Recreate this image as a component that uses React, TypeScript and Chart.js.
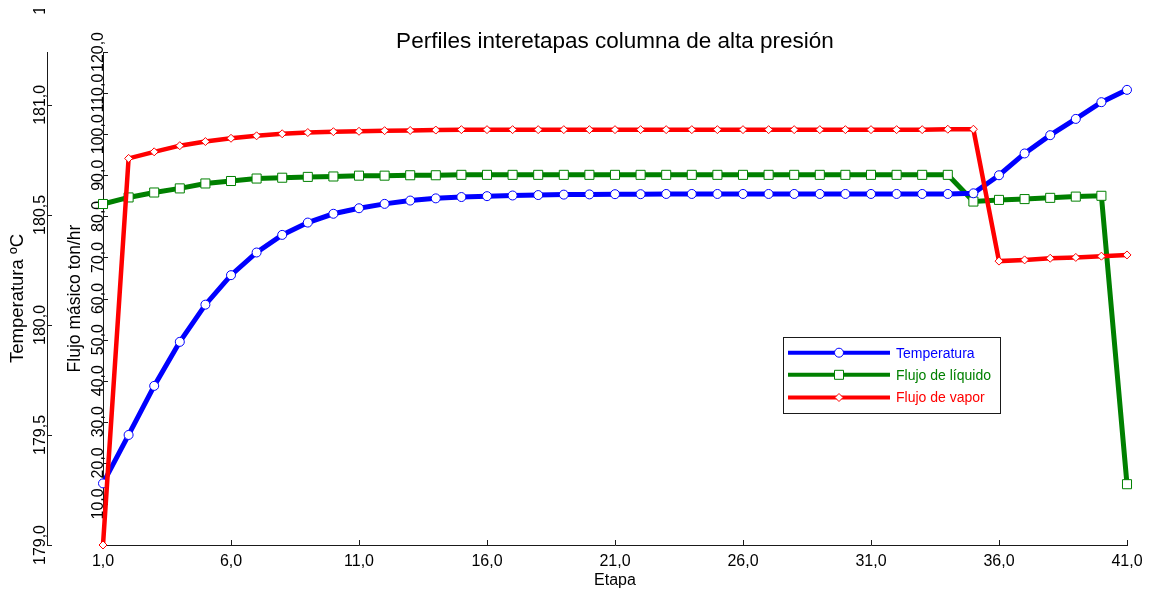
import React, { useEffect, useRef } from 'react';
import { Chart, registerables } from 'chart.js';

Chart.register(...registerables);

// ---------- data ----------
const stages = [
  1, 2, 3, 4, 5, 6, 7, 8, 9, 10, 11, 12, 13, 14, 15, 16, 17, 18, 19, 20, 21,
  22, 23, 24, 25, 26, 27, 28, 29, 30, 31, 32, 33, 34, 35, 36, 37, 38, 39, 40, 41,
];

const temperatura = [
  179.28, 179.5, 179.723, 179.923, 180.092, 180.226, 180.329, 180.409, 180.465, 180.505,
  180.53, 180.55, 180.565, 180.575, 180.581, 180.585, 180.588, 180.59, 180.592, 180.593,
  180.594, 180.594, 180.595, 180.595, 180.595, 180.595, 180.595, 180.595, 180.595, 180.595,
  180.595, 180.595, 180.595, 180.595, 180.598, 180.68, 180.779, 180.862, 180.936, 181.012,
  181.068,
];

const flujoLiquido = [
  83.0, 84.6, 85.8, 86.8, 88.0, 88.6, 89.2, 89.4, 89.6, 89.7,
  89.9, 89.9, 90.0, 90.0, 90.1, 90.1, 90.1, 90.1, 90.1, 90.1,
  90.1, 90.1, 90.1, 90.1, 90.1, 90.1, 90.1, 90.1, 90.1, 90.1,
  90.1, 90.1, 90.1, 90.1, 83.6, 84.0, 84.2, 84.5, 84.8, 85.0,
  14.8,
];

const flujoVapor = [
  0.0, 94.1, 95.7, 97.2, 98.2, 99.0, 99.6, 100.1, 100.4, 100.6,
  100.7, 100.85, 100.9, 101.0, 101.1, 101.1, 101.1, 101.1, 101.1, 101.1,
  101.1, 101.1, 101.1, 101.1, 101.1, 101.1, 101.1, 101.1, 101.1, 101.1,
  101.1, 101.1, 101.1, 101.2, 101.2, 69.1, 69.4, 69.8, 70.0, 70.3,
  70.6,
];

const xTickValues = [1, 6, 11, 16, 21, 26, 31, 36, 41];
const flowTickValues = [0, 10, 20, 30, 40, 50, 60, 70, 80, 90, 100, 110, 120];
const tempTickValues = [179.0, 179.5, 180.0, 180.5, 181.0, 181.5];

const flowMin = 0;
const flowMax = 120;
const tempMin = 179.0;
const tempMax = 181.24;

const seriesLabels = ['Temperatura', 'Flujo de líquido', 'Flujo de vapor'];
const chartTitle = 'Perfiles interetapas columna de alta presión';
const xTitle = 'Etapa';
const tempTitle = 'Temperatura ºC';
const flowTitle = 'Flujo másico ton/hr';

// ---------- style ----------
const FONT = '"Liberation Sans", Arial, Helvetica, sans-serif';
const AXIS = '#1a1a1a';
const BLUE = '#0000ff';
const GREEN = '#008000';
const RED = '#ff0000';

const fmt = (v: number) => v.toFixed(1).replace('.', ',');

type Marker = 'circle' | 'rect' | 'rectRot';

function drawMarker(ctx: CanvasRenderingContext2D, kind: Marker, x: number, y: number, color: string) {
  ctx.save();
  ctx.fillStyle = '#ffffff';
  ctx.strokeStyle = color;
  ctx.lineWidth = 1;
  ctx.beginPath();
  if (kind === 'circle') {
    ctx.arc(x, y, 4.5, 0, Math.PI * 2);
  } else if (kind === 'rect') {
    ctx.rect(x - 4.5, y - 4.5, 9, 9);
  } else {
    ctx.moveTo(x - 4, y);
    ctx.lineTo(x, y - 4);
    ctx.lineTo(x + 4, y);
    ctx.lineTo(x, y + 4);
    ctx.closePath();
  }
  ctx.fill();
  ctx.stroke();
  ctx.restore();
}

const axesPlugin = {
  id: 'matlabAxes',
  beforeDatasetsDraw(chart: any) {
    const ctx: CanvasRenderingContext2D = chart.ctx;
    const ca = chart.chartArea;
    const sx = chart.scales.x;
    const sF = chart.scales.yF;
    const sT = chart.scales.yT;
    ctx.save();
    ctx.strokeStyle = AXIS;
    ctx.lineWidth = 1;
    ctx.beginPath();
    xTickValues.forEach((v) => {
      const px = Math.round(sx.getPixelForValue(v)) + 0.5;
      ctx.moveTo(px, ca.bottom);
      ctx.lineTo(px, ca.bottom - 5);
    });
    flowTickValues.forEach((v) => {
      const py = Math.round(sF.getPixelForValue(v)) + 0.5;
      ctx.moveTo(sF.right, py);
      ctx.lineTo(sF.right + 5, py);
    });
    tempTickValues
      .filter((v) => v <= sT.max)
      .forEach((v) => {
        const py = Math.round(sT.getPixelForValue(v)) + 0.5;
        ctx.moveTo(sT.right, py);
        ctx.lineTo(sT.right + 5, py);
      });
    ctx.stroke();

    ctx.fillStyle = '#000000';
    ctx.font = `16px ${FONT}`;
    ctx.textAlign = 'center';
    ctx.textBaseline = 'alphabetic';
    flowTickValues
      .filter((v) => v > 0)
      .forEach((v) => {
        ctx.save();
        ctx.translate(sF.right, sF.getPixelForValue(v));
        ctx.rotate(-Math.PI / 2);
        ctx.fillText(fmt(v), 0, 0);
        ctx.restore();
      });
    // temperature labels: the outer axis frame clips its top a little below the canvas edge
    ctx.save();
    ctx.beginPath();
    ctx.rect(0, 9, sT.right, chart.height - 9);
    ctx.clip();
    tempTickValues.forEach((v) => {
      ctx.save();
      ctx.translate(sT.right - 2, sT.getPixelForValue(v));
      ctx.rotate(-Math.PI / 2);
      ctx.fillText(fmt(v), 0, 0);
      ctx.restore();
    });
    ctx.restore();
    ctx.restore();
  },
  afterDatasetsDraw(chart: any) {
    const ctx: CanvasRenderingContext2D = chart.ctx;
    const ca = chart.chartArea;
    const lx = ca.left + 680;
    const ly = ca.top + 285;
    const lw = 217;
    const lh = 76;
    ctx.save();
    ctx.fillStyle = '#ffffff';
    ctx.fillRect(lx, ly, lw, lh);
    ctx.strokeStyle = AXIS;
    ctx.lineWidth = 1;
    ctx.strokeRect(Math.round(lx) + 0.5, Math.round(ly) + 0.5, lw, lh);
    const rows = [15.7, 37.8, 60.5];
    chart.data.datasets.forEach((ds: any, i: number) => {
      const y = ly + rows[i];
      ctx.strokeStyle = ds.borderColor;
      ctx.lineWidth = 4;
      ctx.beginPath();
      ctx.moveTo(lx + 5, y);
      ctx.lineTo(lx + 107, y);
      ctx.stroke();
      drawMarker(ctx, ds.pointStyle, lx + 56, y, ds.pointBorderColor);
      ctx.fillStyle = ds.borderColor;
      ctx.font = `14px ${FONT}`;
      ctx.textAlign = 'left';
      ctx.textBaseline = 'middle';
      ctx.fillText(ds.label, lx + 113, y + 1);
    });
    ctx.restore();
  },
};

export default function App() {
  const ref = useRef<HTMLCanvasElement>(null);

  useEffect(() => {
    if (!ref.current) return;
    const pts = (vals: number[]) => stages.map((s, i) => ({ x: s, y: vals[i] }));
    const chart = new Chart(ref.current, {
      type: 'line',
      data: {
        datasets: [
          {
            label: seriesLabels[0],
            data: pts(temperatura),
            yAxisID: 'yT',
            borderColor: BLUE,
            borderWidth: 5,
            pointStyle: 'circle',
            pointRadius: 4.5,
            pointBorderWidth: 1,
            pointBorderColor: BLUE,
            pointBackgroundColor: '#ffffff',
            tension: 0,
            clip: false,
            order: 1,
          },
          {
            label: seriesLabels[1],
            data: pts(flujoLiquido),
            yAxisID: 'yF',
            borderColor: GREEN,
            borderWidth: 5,
            pointStyle: 'rect',
            pointRadius: 6.4,
            pointBorderWidth: 1,
            pointBorderColor: GREEN,
            pointBackgroundColor: '#ffffff',
            tension: 0,
            clip: false,
            order: 2,
          },
          {
            label: seriesLabels[2],
            data: pts(flujoVapor),
            yAxisID: 'yF',
            borderColor: RED,
            borderWidth: 4.5,
            pointStyle: 'rectRot',
            pointRadius: 4,
            pointBorderWidth: 1,
            pointBorderColor: RED,
            pointBackgroundColor: '#ffffff',
            tension: 0,
            clip: false,
            order: 0,
          },
        ] as any,
      },
      options: {
        responsive: false,
        animation: false,
        devicePixelRatio: 1,
        layout: { padding: { left: 0, top: 0, right: 23, bottom: 0 } },
        plugins: {
          legend: { display: false },
          tooltip: { enabled: false },
          title: {
            display: true,
            text: chartTitle,
            fullSize: false,
            color: '#000000',
            font: { family: FONT, size: 22.5, weight: 'normal', lineHeight: '20px' },
            padding: { top: 32, bottom: 0 },
          },
        },
        scales: {
          x: {
            type: 'linear',
            min: stages[0],
            max: stages[stages.length - 1],
            afterBuildTicks: (s: any) => {
              s.ticks = xTickValues.map((v) => ({ value: v }));
            },
            afterFit: (s: any) => {
              s.height = 47;
            },
            ticks: {
              callback: (v: any) => fmt(Number(v)),
              font: { family: FONT, size: 16 },
              color: '#000000',
              padding: 7,
              maxRotation: 0,
              autoSkip: false,
            },
            grid: { display: false, drawTicks: false },
            border: { display: true, color: AXIS, width: 1 },
            title: {
              display: true,
              text: xTitle,
              color: '#000000',
              font: { family: FONT, size: 16 },
              padding: { top: 0, bottom: 2 },
            },
          },
          yF: {
            type: 'linear',
            position: 'left',
            weight: 0,
            min: flowMin,
            max: flowMax,
            afterFit: (s: any) => {
              s.width = 56;
            },
            ticks: { display: false },
            grid: { display: false, drawTicks: false },
            border: { display: true, color: AXIS, width: 1 },
            title: {
              display: true,
              text: flowTitle,
              color: '#000000',
              font: { family: FONT, size: 17.5 },
              padding: { top: 18, bottom: 0 },
            },
          },
          yT: {
            type: 'linear',
            position: 'left',
            weight: 1,
            min: tempMin,
            max: tempMax,
            afterFit: (s: any) => {
              s.width = 47;
            },
            ticks: { display: false },
            grid: { display: false, drawTicks: false },
            border: { display: true, color: AXIS, width: 1 },
            title: {
              display: true,
              text: tempTitle,
              color: '#000000',
              font: { family: FONT, size: 18.5 },
              padding: { top: 7, bottom: 0 },
            },
          },
        },
      } as any,
      plugins: [axesPlugin],
    });
    return () => chart.destroy();
  }, []);

  return (
    <div style={{ position: 'absolute', left: 0, top: 0, width: 1150, height: 592, background: '#ffffff' }}>
      <canvas ref={ref} width={1150} height={592} style={{ display: 'block' }} />
    </div>
  );
}
